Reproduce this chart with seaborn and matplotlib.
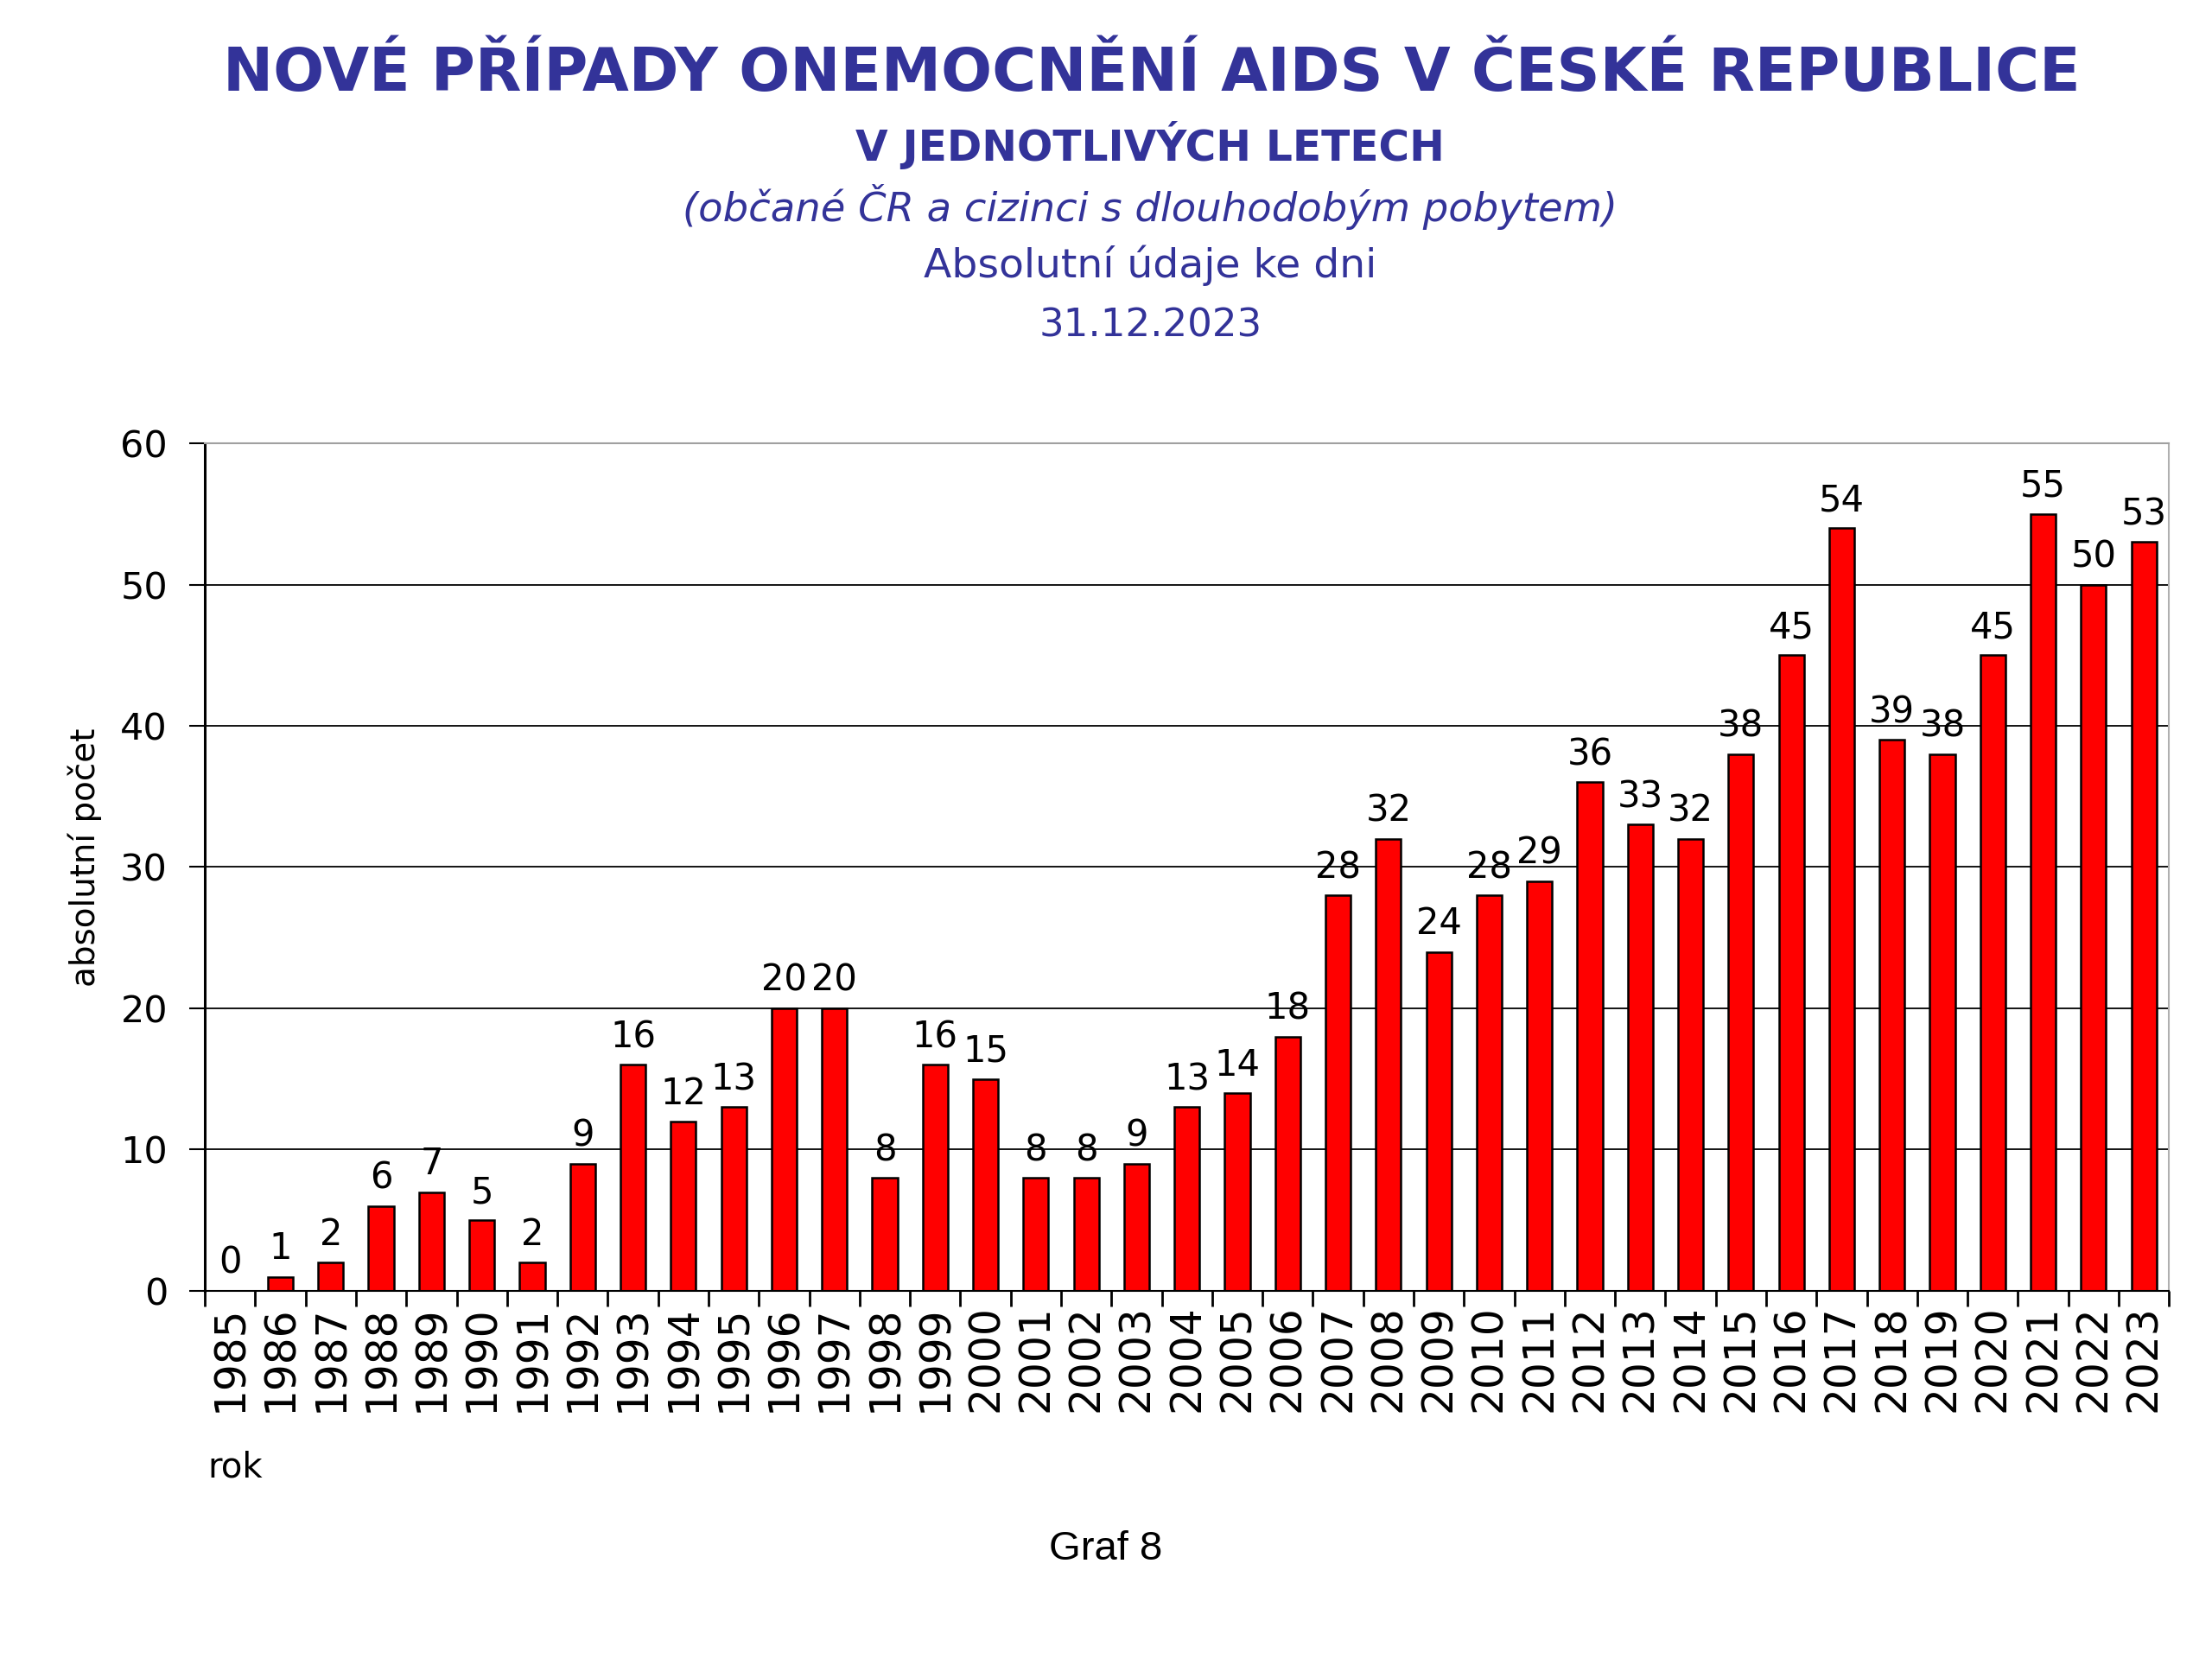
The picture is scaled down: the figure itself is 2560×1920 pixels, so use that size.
import pandas as pd
import matplotlib
matplotlib.use('Agg')
import matplotlib.pyplot as plt
import seaborn as sns

sns.set_style('white')
plt.rcParams['font.family'] = ['DejaVu Sans']
plt.rcParams['text.color'] = 'black'
plt.rcParams['xtick.color'] = 'black'
plt.rcParams['ytick.color'] = 'black'
plt.rcParams['axes.edgecolor'] = 'black'

years = [str(y) for y in range(1985, 2024)]
cases = [0, 1, 2, 6, 7, 5, 2, 9, 16, 12, 13, 20, 20, 8, 16, 15, 8, 8, 9, 13,
         14, 18, 28, 32, 24, 28, 29, 36, 33, 32, 38, 45, 54, 39, 38, 45, 55, 50, 53]

title = 'NOVÉ PŘÍPADY ONEMOCNĚNÍ AIDS V ČESKÉ REPUBLICE'
subtitle = 'V JEDNOTLIVÝCH LETECH'
note = '(občané ČR a cizinci s dlouhodobým pobytem)'
line_abs = 'Absolutní údaje ke dni'
line_date = '31.12.2023'

df = pd.DataFrame({'rok': years, 'pocet': cases})

navy = '#333399'

fig = plt.figure(figsize=(25.6, 19.2), dpi=100)
ax = fig.add_axes([0.0926, 0.2219, 0.888, 0.5109])

sns.barplot(data=df, x='rok', y='pocet', color='#ff0000', saturation=1,
            edgecolor='black', linewidth=1.8, width=0.5, ax=ax)

for c in ax.containers:
    ax.bar_label(c, fmt='%d', padding=8, fontsize=30, color='black')

ax.set_ylim(0, 60)
ax.set_xlim(-0.5, len(years) - 0.5)
ax.set_yticks(range(0, 61, 10))
ax.yaxis.grid(True, color='black', linewidth=1.3)
ax.set_axisbelow(True)

ax.spines['left'].set_linewidth(2.2)
ax.spines['bottom'].set_linewidth(1.5)
ax.spines['top'].set_color('#a0a0a0')
ax.spines['top'].set_linewidth(1.5)
ax.spines['right'].set_color('#b0b0b0')
ax.spines['right'].set_linewidth(1.5)

ax.tick_params(axis='y', direction='out', length=13, width=1.5, pad=18,
               labelsize=31, left=True)
ax.set_xticks([i - 0.5 for i in range(len(years) + 1)], minor=True)
ax.tick_params(axis='x', which='minor', direction='out', length=13, width=2,
               bottom=True)
ax.tick_params(axis='x', which='major', length=0, pad=12, labelsize=35,
               labelrotation=90)

ax.set_xlabel('')
ax.set_ylabel('')

fig.text(0.0383, 0.483, 'absolutní počet', rotation=90, fontsize=28,
         ha='center', va='center')
fig.text(0.094, 0.1156, 'rok', fontsize=29, ha='left', va='center')
fig.text(0.5, 0.066, 'Graf 8', fontsize=34, ha='center', va='center',
         family='Liberation Sans')

fig.text(0.5207, 0.9557, title, fontsize=50, fontweight='bold', color=navy,
         ha='center', va='center')
fig.text(0.52, 0.9125, subtitle, fontsize=35, fontweight='bold', color=navy,
         ha='center', va='center')
fig.text(0.52, 0.875, note, fontsize=33.5, style='italic', color=navy,
         ha='center', va='center')
fig.text(0.52, 0.840, line_abs, fontsize=34, color=navy,
         ha='center', va='center')
fig.text(0.52, 0.8036, line_date, fontsize=32.5, color=navy,
         ha='center', va='center')

fig.savefig('out.png', dpi=100, facecolor='white')
